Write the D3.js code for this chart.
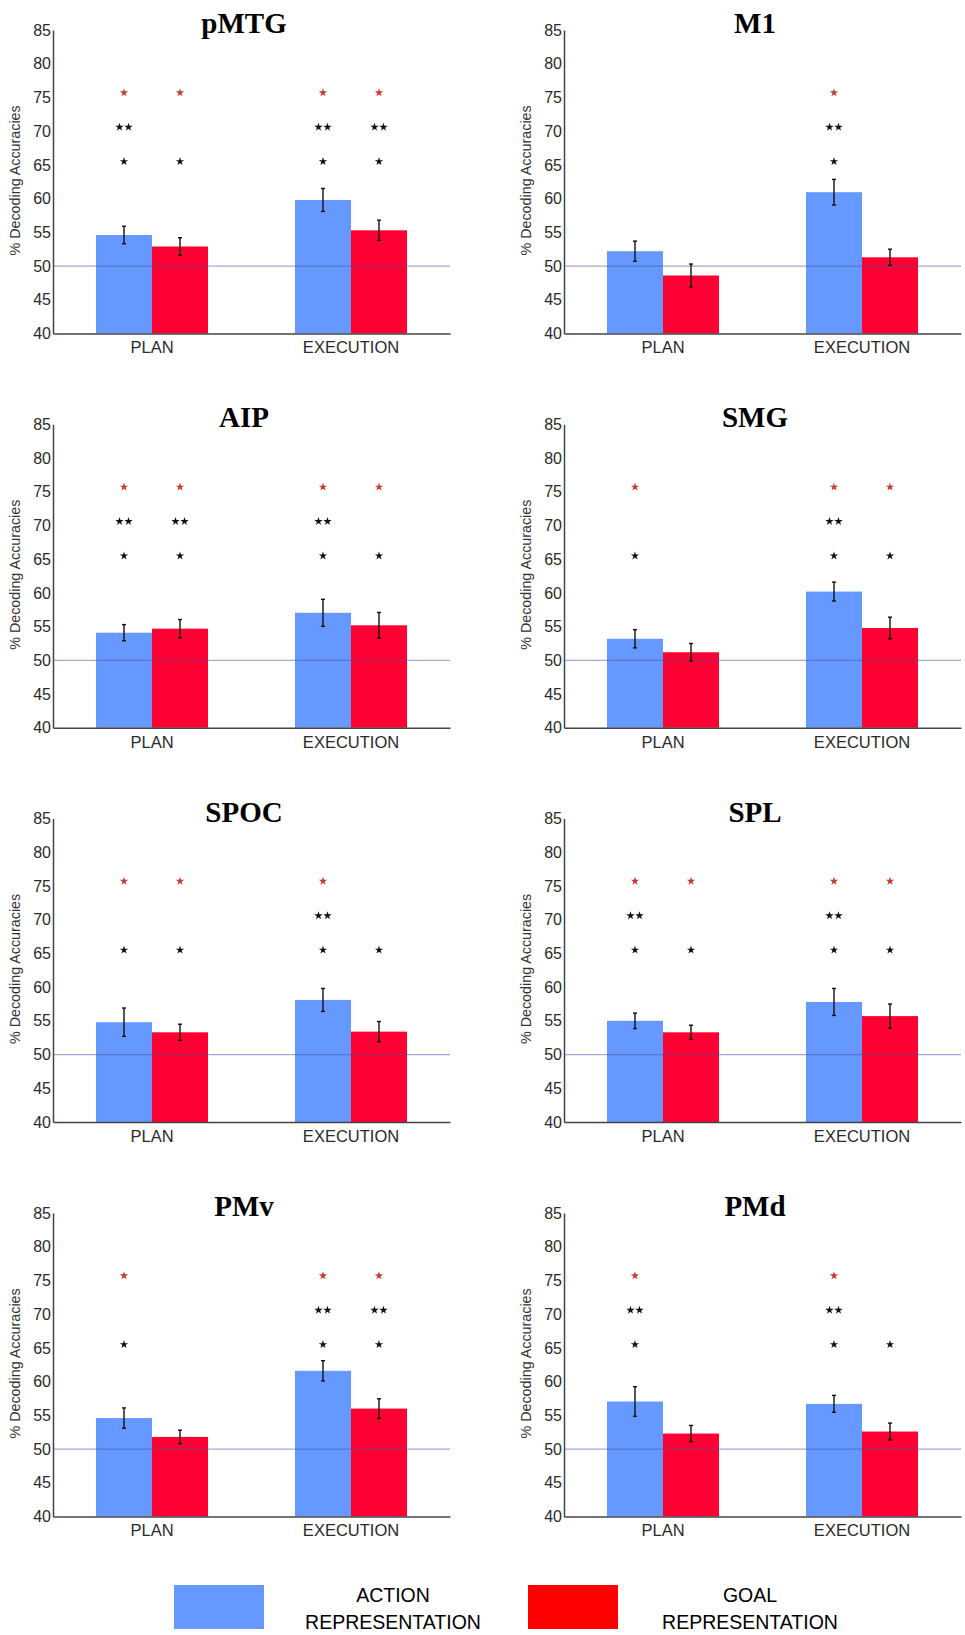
<!DOCTYPE html>
<html>
<head>
<meta charset="utf-8">
<script src="https://cdn.jsdelivr.net/npm/d3@7"></script>
<style>
  html, body { margin: 0; padding: 0; background: #fff; }
  svg { display: block; }
</style>
</head>
<body>
<svg id="chart" width="965" height="1635"></svg>
<script>
// ---------------- DATA ----------------
const regions = ["pMTG", "M1", "AIP", "SMG", "SPOC", "SPL", "PMv", "PMd"];
const phases = ["PLAN", "EXECUTION"];
const seriesNames = ["ACTION REPRESENTATION", "GOAL REPRESENTATION"];
const yTicks = [40, 45, 50, 55, 60, 65, 70, 75, 80, 85];

const actionPlan    = [54.6, 52.2, 54.1, 53.2, 54.8, 55.0, 54.6, 57.05];
const actionPlanErr = [1.3, 1.5, 1.2, 1.35, 2.1, 1.15, 1.5, 2.2];
const goalPlan      = [52.9, 48.6, 54.7, 51.2, 53.3, 53.3, 51.8, 52.3];
const goalPlanErr   = [1.3, 1.7, 1.35, 1.3, 1.2, 1.05, 1.0, 1.2];
const actionExec    = [59.8, 60.95, 57.05, 60.2, 58.1, 57.8, 61.6, 56.7];
const actionExecErr = [1.7, 1.9, 2.0, 1.4, 1.7, 2.0, 1.5, 1.25];
const goalExec      = [55.3, 51.3, 55.2, 54.8, 53.4, 55.7, 56.0, 52.6];
const goalExecErr   = [1.5, 1.2, 1.9, 1.6, 1.5, 1.8, 1.45, 1.25];

// significance markers per bar: [actionPlan, goalPlan, actionExec, goalExec]
// 'r' = red star, '2' = double black star, '1' = single black star
const significance = [
  ["r21", "r1", "r21", "r21"],
  ["", "", "r21", ""],
  ["r21", "r21", "r21", "r1"],
  ["r1", "", "r21", "r1"],
  ["r1", "r1", "r21", "1"],
  ["r21", "r1", "r21", "r1"],
  ["r1", "", "r21", "r21"],
  ["r21", "", "r21", "1"]
];
const starLevels = { r: 75.7, "2": 70.6, "1": 65.5 };
const chanceLevel = 50;

// ---------------- LAYOUT ----------------
const colX = [53, 564];
const rowTop = [30, 424.3, 818.5, 1213];
const plotW = 397, plotH = 303.5;
const colors = { action: "#6699FF", goal: "#FF0033" };
const legendColors = ["#6699FF", "#FF0000"];

const svg = d3.select("#chart");
svg.append("rect").attr("width", 965).attr("height", 1635).attr("fill", "#fff");

const y = d3.scaleLinear().domain([40, 85]).range([plotH, 0]);
const x0 = d3.scaleBand().domain(phases).range([0, plotW]).paddingInner(0.437).paddingOuter(0.216);
const x1 = d3.scaleBand().domain(["action", "goal"]).range([0, x0.bandwidth()]);

regions.forEach((name, i) => {
  const col = i % 2, row = Math.floor(i / 2);
  const g = svg.append("g").attr("transform", `translate(${colX[col]},${rowTop[row]})`);

  const bars = [
    { phase: "PLAN", s: "action", v: actionPlan[i], e: actionPlanErr[i], sig: significance[i][0] },
    { phase: "PLAN", s: "goal", v: goalPlan[i], e: goalPlanErr[i], sig: significance[i][1] },
    { phase: "EXECUTION", s: "action", v: actionExec[i], e: actionExecErr[i], sig: significance[i][2] },
    { phase: "EXECUTION", s: "goal", v: goalExec[i], e: goalExecErr[i], sig: significance[i][3] }
  ];
  const cx = d => x0(d.phase) + x1(d.s) + x1.bandwidth() / 2;

  // bars
  g.selectAll("rect.bar").data(bars).join("rect")
    .attr("class", "bar")
    .attr("x", d => x0(d.phase) + x1(d.s))
    .attr("y", d => y(d.v))
    .attr("width", x1.bandwidth())
    .attr("height", d => y(40) - y(d.v))
    .attr("fill", d => colors[d.s]);

  // chance line
  g.append("line")
    .attr("x1", 0).attr("x2", plotW)
    .attr("y1", y(chanceLevel)).attr("y2", y(chanceLevel))
    .attr("stroke", "rgb(80,80,160)").attr("stroke-opacity", 0.5).attr("stroke-width", 1.3);

  // error bars
  const eb = g.selectAll("g.err").data(bars).join("g").attr("class", "err");
  eb.append("line")
    .attr("x1", cx).attr("x2", cx)
    .attr("y1", d => y(d.v + d.e)).attr("y2", d => y(d.v - d.e))
    .attr("stroke", "#111").attr("stroke-width", 1.4);
  eb.append("line")
    .attr("x1", d => cx(d) - 2).attr("x2", d => cx(d) + 2)
    .attr("y1", d => y(d.v + d.e)).attr("y2", d => y(d.v + d.e))
    .attr("stroke", "#111").attr("stroke-width", 1.4);
  eb.append("line")
    .attr("x1", d => cx(d) - 2).attr("x2", d => cx(d) + 2)
    .attr("y1", d => y(d.v - d.e)).attr("y2", d => y(d.v - d.e))
    .attr("stroke", "#111").attr("stroke-width", 1.4);

  // significance stars
  const star = d3.symbol().type(d3.symbolStar).size(22);
  bars.forEach(d => {
    d.sig.split("").forEach(code => {
      const yy = y(starLevels[code]);
      const offs = code === "2" ? [-4.5, 4.5] : [0];
      offs.forEach(o => {
        g.append("path")
          .attr("d", star())
          .attr("transform", `translate(${cx(d) + o},${yy})`)
          .attr("fill", code === "r" ? "#c83a3a" : "#111");
      });
    });
  });

  // axes
  const yAxis = d3.axisLeft(y).tickValues(yTicks).tickSize(0).tickPadding(2);
  const ya = g.append("g").call(yAxis);
  ya.select(".domain").attr("stroke", "#444").attr("stroke-width", 1.5);
  ya.selectAll("text").attr("font-family", "Liberation Sans, Arial, sans-serif")
    .attr("font-size", 16).attr("fill", "#2a2a2a");

  const xAxis = d3.axisBottom(x0).tickSize(0).tickPadding(8);
  const xa = g.append("g").attr("transform", `translate(0,${plotH})`).call(xAxis);
  xa.select(".domain").attr("stroke", "#444").attr("stroke-width", 1.5);
  xa.selectAll("text").attr("font-family", "Liberation Sans, Arial, sans-serif")
    .attr("font-size", 16.5).attr("fill", "#2a2a2a");

  // y label
  g.append("text")
    .attr("transform", `translate(-33,${y(62.7)}) rotate(-90)`)
    .attr("text-anchor", "middle")
    .attr("font-family", "Liberation Sans, Arial, sans-serif")
    .attr("font-size", 14.3).attr("fill", "#333")
    .text("% Decoding Accuracies");

  // title
  g.append("text")
    .attr("x", 191).attr("y", 3)
    .attr("text-anchor", "middle")
    .attr("font-family", "Liberation Serif, Times New Roman, serif")
    .attr("font-weight", "bold")
    .attr("font-size", 29).attr("fill", "#000")
    .text(name);
});

// ---------------- LEGEND ----------------
const legendRects = [174, 528];
const legendTextX = [393, 750];
seriesNames.forEach((s, i) => {
  svg.append("rect")
    .attr("x", legendRects[i]).attr("y", 1585)
    .attr("width", 90).attr("height", 44)
    .attr("fill", legendColors[i]);
  const words = s.split(" ");
  const t = svg.append("text")
    .attr("text-anchor", "middle")
    .attr("font-family", "Liberation Sans, Arial, sans-serif")
    .attr("font-size", 19.5).attr("fill", "#000");
  t.append("tspan").attr("x", legendTextX[i]).attr("y", 1602).text(words[0]);
  t.append("tspan").attr("x", legendTextX[i]).attr("y", 1628.5).text(words[1]);
});
</script>
</body>
</html>
